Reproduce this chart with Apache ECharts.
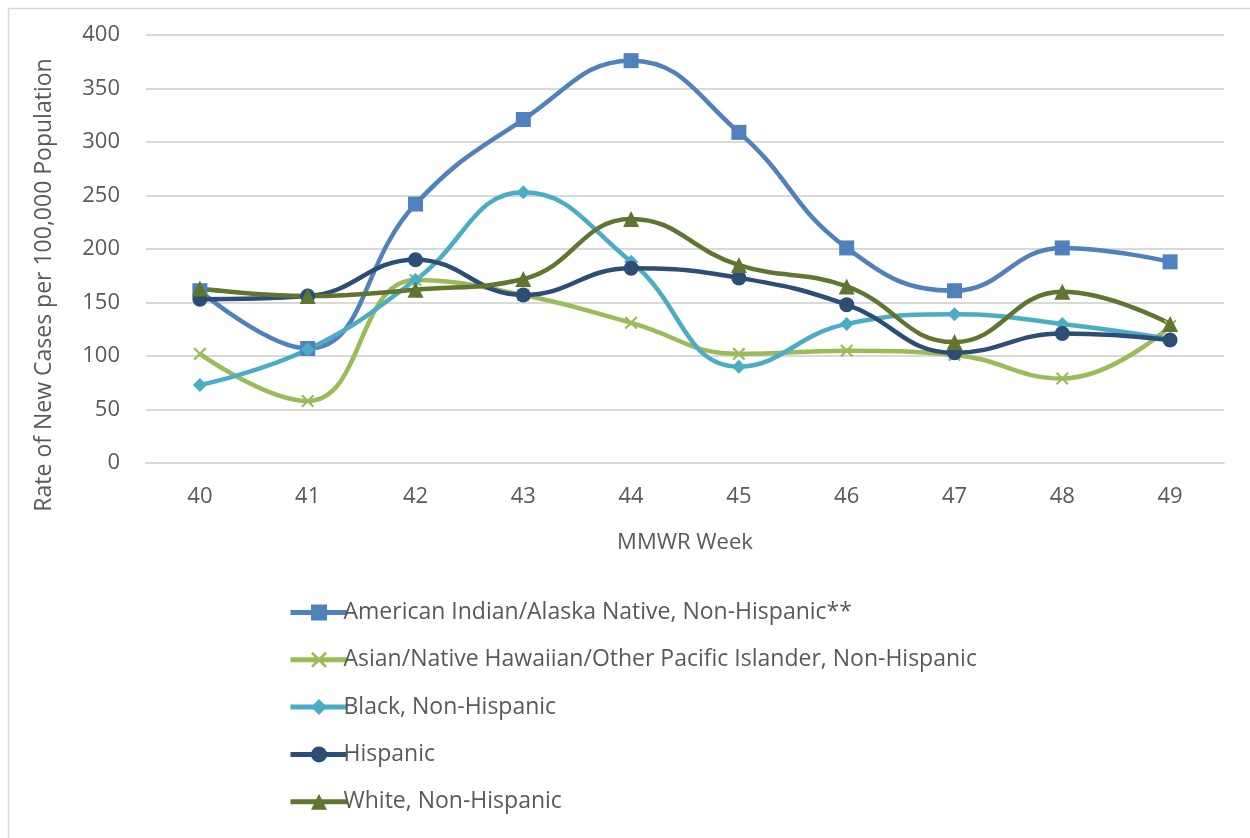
<!DOCTYPE html>
<html>
<head>
<meta charset="utf-8">
<script src="https://cdn.jsdelivr.net/npm/echarts@6/dist/echarts.min.js"></script>
<style>
html,body{margin:0;padding:0;background:#fff;}
#c{width:1250px;height:838px;}
</style>
</head>
<body>
<div id="c"></div>
<script>
const weeks = ['40','41','42','43','44','45','46','47','48','49'];
const seriesNames = [
  'American Indian/Alaska Native, Non-Hispanic**',
  'Asian/Native Hawaiian/Other Pacific Islander, Non-Hispanic',
  'Black, Non-Hispanic',
  'Hispanic',
  'White, Non-Hispanic'
];
const aian     = [161, 107, 242, 321, 376, 309, 201, 161, 201, 188];
const asian    = [102,  58, 171, 157, 131, 102, 105, 101,  79, 128];
const black    = [ 73, 106, 171, 253, 188,  90, 130, 139, 130, 116];
const hispanic = [153, 156, 190, 157, 182, 173, 148, 103, 121, 115];
const white    = [163, 156, 162, 172, 228, 185, 165, 113, 160, 130];
const yTicks = [0, 50, 100, 150, 200, 250, 300, 350, 400];

const colors = ['#4F81BD', '#9BBB59', '#4BACC6', '#2C4D75', '#5F7530'];
const xPath = 'path://M0,1.2 L1.2,0 L5,3.8 L8.8,0 L10,1.2 L6.2,5 L10,8.8 L8.8,10 L5,6.2 L1.2,10 L0,8.8 L3.8,5 Z';
const symbols = ['rect', xPath, 'diamond', 'circle', 'triangle'];
const symbolSizes = [15, 13, 14, 15, 16];
const dataSets = [aian, asian, black, hispanic, white];
const FONT = 'Open Sans';
const FS = 22;
const TXT = '#595959';

const chart = echarts.init(document.getElementById('c'));
chart.setOption({
  animation: false,
  backgroundColor: '#fff',
  color: colors,
  graphic: [{
    type: 'rect', left: 6, top: 6, silent: true,
    shape: {width: 1400, height: 1000},
    style: {fill: 'none', stroke: '#d9d9d9', lineWidth: 1.5}
  }],
  grid: {left: 146, right: 26, top: 35, bottom: 375, containLabel: false},
  legend: {
    orient: 'vertical', left: 283, top: 596,
    itemWidth: 57, itemHeight: 20, itemGap: 24.3,
    lineStyle: {width: 5},
    textStyle: {fontFamily: FONT, fontSize: 23, color: TXT, padding: [0,0,0,-9]},
    data: seriesNames
  },
  xAxis: {
    type: 'category', data: weeks, boundaryGap: true,
    name: 'MMWR Week', nameLocation: 'middle', nameGap: 69,
    nameTextStyle: {fontFamily: FONT, fontSize: FS, color: TXT},
    axisLine: {show: true, lineStyle: {color: '#d9d9d9', width: 2}},
    axisTick: {show: false},
    axisLabel: {fontFamily: FONT, fontSize: FS, color: TXT, margin: 23}
  },
  yAxis: {
    type: 'value', min: 0, max: 400, interval: 50,
    name: 'Rate of New Cases per 100,000 Population', nameLocation: 'middle', nameGap: 90,
    nameTextStyle: {fontFamily: FONT, fontSize: 23, color: TXT, padding: [0, 72, 0, 0]},
    axisLine: {show: false}, axisTick: {show: false},
    axisLabel: {fontFamily: FONT, fontSize: FS, color: TXT, margin: 26,
      formatter: v => yTicks.includes(v) ? String(v) : ''},
    splitLine: {lineStyle: {color: '#d9d9d9', width: 2}}
  },
  series: seriesNames.map((n, i) => ({
    name: n, type: 'line', data: dataSets[i], smooth: 0.45,
    symbol: symbols[i], symbolSize: symbolSizes[i], showSymbol: true,
    lineStyle: {width: 4.5, color: colors[i]},
    itemStyle: {color: colors[i], borderWidth: 0}
  }))
});
</script>
</body>
</html>
